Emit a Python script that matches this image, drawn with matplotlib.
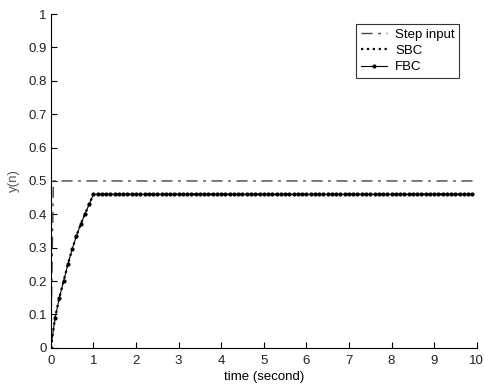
import numpy as np
import matplotlib.pyplot as plt

plt.rcParams['font.family'] = ['Liberation Sans', 'DejaVu Sans']

# rise phase of the feedback controller, sampled every 0.1 s
rise_t = [0.0, 0.1, 0.2, 0.3, 0.4, 0.5, 0.6, 0.7, 0.8, 0.9, 1.0]
rise_y = [0.0, 0.09, 0.15, 0.20, 0.25, 0.295, 0.335, 0.37, 0.40, 0.43, 0.46]
steady_val = 0.46
t_end = 9.9

step_t = [0.0, 0.06, 10.0]
step_y = [0.0, 0.5, 0.5]

t = np.round(np.arange(0, t_end + 0.05, 0.1), 2)
y = np.full(len(t), steady_val)
y[:len(rise_y)] = rise_y

fig = plt.figure(figsize=(4.84, 3.9), dpi=100)
ax = fig.add_axes([0.105, 0.108, 0.88, 0.856])

ax.plot(step_t, step_y, color='#444444', linewidth=1.0, dashes=(8, 4, 2, 4), label='Step input')
ax.plot(t, y, color='black', linestyle=':', linewidth=1.6, label='SBC')
ax.plot(t, y, color='black', linestyle='-', linewidth=0.8, marker='o', markersize=2.0, label='FBC')

ax.set_xlim(0, 10)
ax.set_ylim(0, 1)
ax.set_xticks(np.arange(0, 11, 1))
ax.set_yticks(np.arange(0, 1.01, 0.1))
ax.set_yticklabels(['0', '0.1', '0.2', '0.3', '0.4', '0.5', '0.6', '0.7', '0.8', '0.9', '1'])
ax.tick_params(direction='in', length=4, labelsize=9.5, width=0.8, colors='black', labelcolor='#222222')
ax.tick_params(axis='x', pad=5)
ax.tick_params(axis='y', pad=3)
for s in ['top', 'right']:
    ax.spines[s].set_visible(False)
ax.set_xlabel('time (second)', fontsize=9.5, labelpad=3)
ax.set_ylabel('y(n)', fontsize=9.5, color='#555555', labelpad=6)

leg = ax.legend(loc='upper right', bbox_to_anchor=(0.975, 0.99), fontsize=9.5, frameon=True,
                fancybox=False, edgecolor='black', handlelength=2.0, borderpad=0.35,
                labelspacing=0.3, handletextpad=0.6)
leg.get_frame().set_linewidth(0.8)

plt.savefig('out.png', dpi=100)
